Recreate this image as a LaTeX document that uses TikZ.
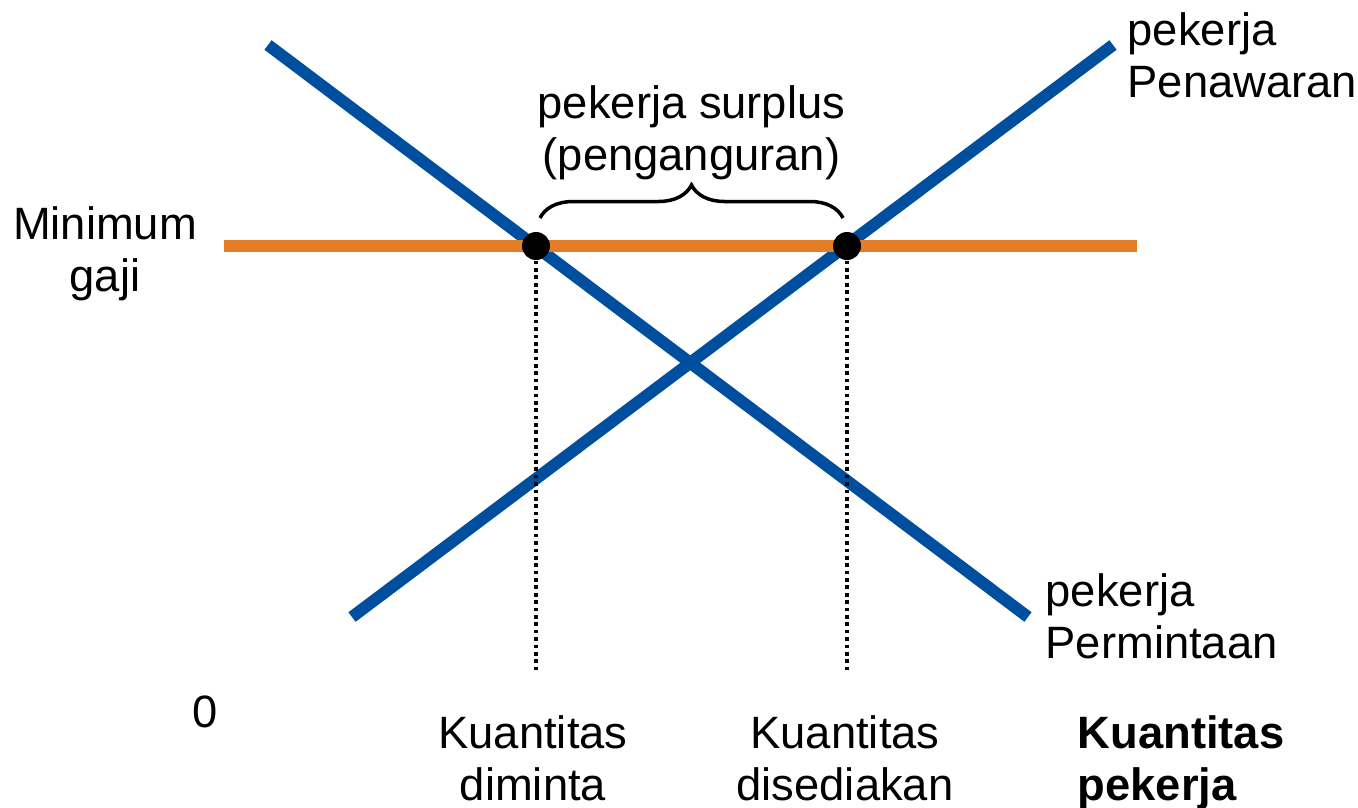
\documentclass[tikz,border=0pt]{standalone}
\usepackage{fontspec}
\setmainfont{Liberation Sans}
\usetikzlibrary{calc,decorations.pathreplacing,positioning}
\definecolor{curveblue}{RGB}{0,79,159}
\definecolor{wageorange}{RGB}{227,126,38}

\begin{document}
\begin{tikzpicture}[%
      font=\fontsize{12.9}{14.8}\selectfont, % text size of the slide
      line cap=butt
      ]
  \tikzset{
     curve/.style={draw=curveblue, line width=3.4pt},
     wage/.style={draw=wageorange, line width=3.2pt},
     dot/.style={circle, fill=black, inner sep=0pt, minimum size=0.28cm},
     guide/.style={draw, line width=1.05pt, dash pattern=on 1.05pt off 1.05pt},
     lbl/.style={inner sep=0pt, align=left}}
 \useasboundingbox (0,0) rectangle (13.58,8.07);

 % end points of the curves
 \coordinate (d1) at (2.68,7.62);
 \coordinate (d2) at (10.28,1.90);
 \coordinate (s1) at (3.52,1.90);
 \coordinate (s2) at (11.13,7.62);
 \coordinate (w1) at (2.24,5.61);
 \coordinate (w2) at (11.37,5.61);

 \draw[curve] (d1) -- (d2);
 \draw[curve] (s1) -- (s2);
 \draw[wage] (w1) -- (w2);

 \node [dot] (qd) at (5.36,5.61) {};
 \node [dot] (qs) at (8.47,5.61) {};
 \coordinate (qd0) at (5.36,1.35);
 \coordinate (qs0) at (8.47,1.35);

 \draw[guide] (qd) -- (qd0);
 \draw[guide] (qs) -- (qs0);

 \coordinate (b1) at (5.40,5.89);
 \coordinate (b2) at (8.43,5.89);
 \draw[line width=1pt, decorate, decoration={brace, amplitude=0.33cm}]
   (b1) -- node[above=0.36cm, align=center, inner sep=0pt] (surplus)
   {pekerja surplus\\(penganguran)} (b2);

 \node [align=center, inner sep=0pt] (minwage) at (1.05,5.53) {Minimum\\gaji};
 \node [inner sep=0pt] (zero) at (2.05,0.95) {0};
 \node [lbl, anchor=north west] (supply) at (11.27,7.95) {pekerja\\Penawaran};
 \node [lbl, anchor=north west] (demand) at (10.45,2.34) {pekerja\\Permintaan};
 \node [lbl, align=center, anchor=north] (qdlbl) at (5.33,0.92) {Kuantitas\\diminta};
 \node [lbl, align=center, anchor=north] (qslbl) at (8.45,0.92) {Kuantitas\\disediakan};
 \node [lbl, anchor=north west, font=\fontsize{12.9}{14.8}\selectfont\bfseries] (axis)
   at (10.77,0.92) {Kuantitas\\pekerja};
\end{tikzpicture}
\end{document}
